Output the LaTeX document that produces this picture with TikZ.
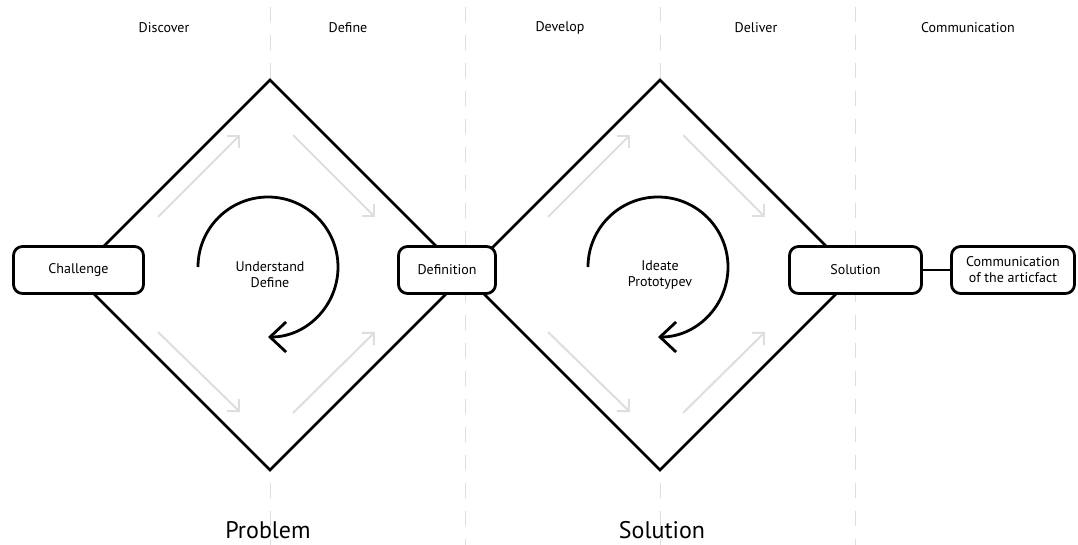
\documentclass[tikz,border=0pt]{standalone}
\usepackage{fontspec}
\setmainfont{PT Sans}
\usetikzlibrary{arrows.meta}
\begin{document}
\begin{tikzpicture}[x=1pt,y=1pt,
  box/.style={draw, line width=2.8pt, rounded corners=9pt, fill=white, minimum height=47pt, align=center, font=\fontsize{14}{16}\selectfont, inner sep=0pt},
  diam/.style={draw, line width=2.8pt, fill=white, line join=miter},
  guide/.style={draw=black!13, line width=1pt, dash pattern=on 15pt off 13pt},
  flow/.style={draw=black!13, line width=2pt, -{Straight Barb[length=8.5pt,width=17pt]}},
  cyc/.style={draw, line width=2.8pt, -{Straight Barb[length=16pt,width=30pt]}},
  lab/.style={font=\fontsize{14}{16}\selectfont, align=center},
  big/.style={font=\fontsize{24}{28}\selectfont}
]
\useasboundingbox (0,0) rectangle (1078,-545);
\fill[white] (0,0) rectangle (1078,-545);
% guides
\foreach \gx in {270,465,660,855} {\draw[guide] (\gx,-7) -- (\gx,-545);}
% diamonds
\draw[diam] (270,-80) -- (465,-275) -- (270,-470) -- (75,-275) -- cycle;
\draw[diam] (660,-80) -- (855,-275) -- (660,-470) -- (465,-275) -- cycle;
% gray flow arrows
\foreach \dx in {0,390} {
  \coordinate (ula) at (158+\dx,-217); \coordinate (ulb) at (240+\dx,-135);
  \coordinate (ura) at (293+\dx,-135); \coordinate (urb) at (375+\dx,-217);
  \coordinate (lla) at (158+\dx,-332); \coordinate (llb) at (240+\dx,-412);
  \coordinate (lra) at (293+\dx,-413); \coordinate (lrb) at (375+\dx,-332);
  \draw[flow] (ula) -- (ulb);
  \draw[flow] (ura) -- (urb);
  \draw[flow] (lla) -- (llb);
  \draw[flow] (lra) -- (lrb);
}
% cycle arrows
\coordinate (c1s) at (198,-267);
\coordinate (c2s) at (588,-267);
\draw[cyc] (c1s) arc[start angle=180, end angle=-90, radius=70];
\draw[cyc] (c2s) arc[start angle=180, end angle=-90, radius=70];
\node[lab] (ud) at (270,-275) {Understand\\Define};
\node[lab] (ip) at (660,-275) {Ideate\\Prototypev};
% boxes
\node[box, minimum width=130pt] (chal) at (78.5,-270) {Challenge};
\node[box, minimum width=97pt] (defn) at (447,-270) {Definition};
\node[box, minimum width=132pt] (sol) at (855.5,-270) {Solution};
\node[box, minimum width=123pt] (com) at (1013,-270) {Communication\\of the articfact};
\draw[line width=2.8pt] (sol) -- (com);
% top labels
\node[lab] (t1) at (164,-28) {Discover};
\node[lab] (t2) at (348,-28) {Define};
\node[lab] (t3) at (560,-28) {Develop};
\node[lab] (t4) at (756,-28) {Deliver};
\node[lab] (t5) at (968,-28) {Communication};
% bottom labels
\node[big] (b1) at (268,-530) {Problem};
\node[big] (b2) at (662,-530) {Solution};
\end{tikzpicture}
\end{document}
